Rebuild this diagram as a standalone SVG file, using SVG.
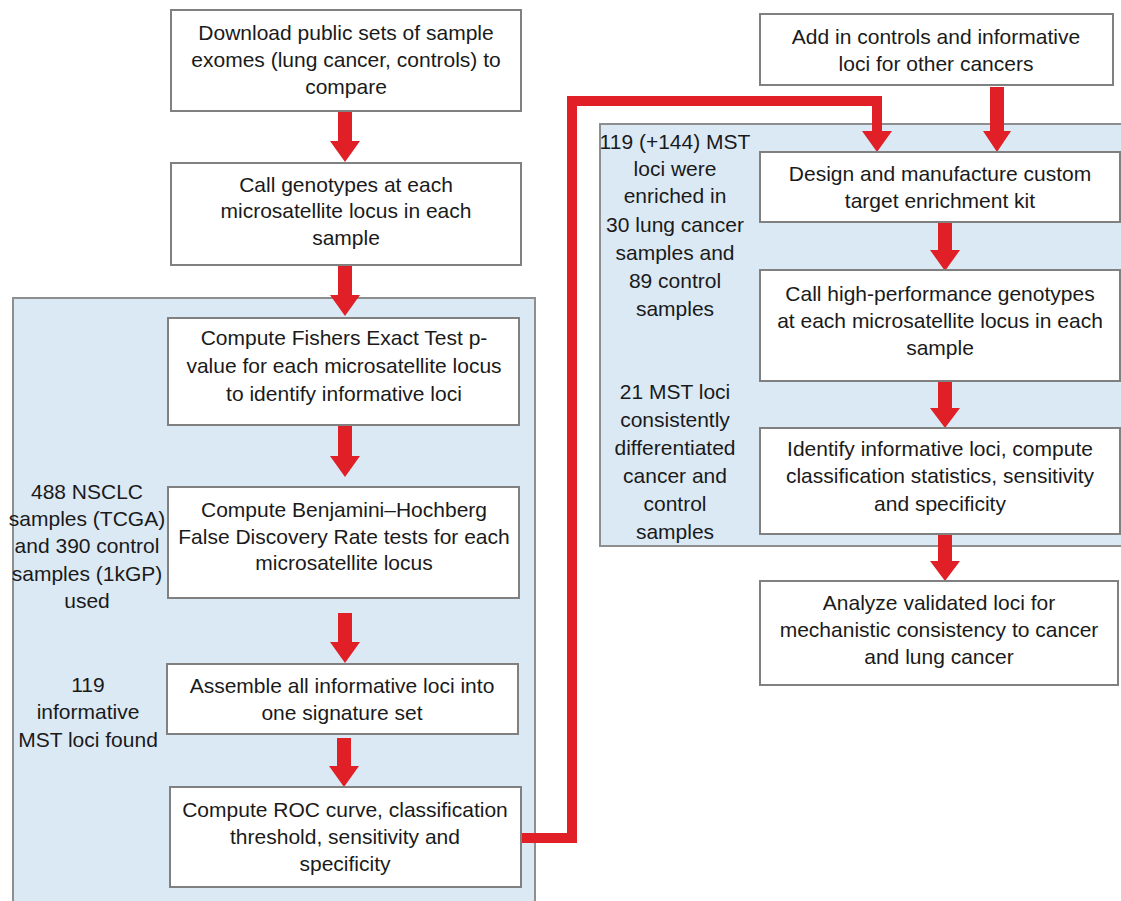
<svg xmlns="http://www.w3.org/2000/svg" width="1121" height="901" viewBox="0 0 1121 901">
<style>
.panel{fill:#dbe9f5;stroke:#8e8e8e;stroke-width:2}
.box{fill:#ffffff;stroke:#808080;stroke-width:2}
.t{font-family:"Liberation Sans",Arial,sans-serif;font-size:21px;fill:#1a1a1a;text-anchor:middle}
.arr{fill:#e01f26}
.line{fill:none;stroke:#e01f26;stroke-width:10;stroke-linejoin:miter}
</style>
<rect width="1121" height="901" fill="#ffffff"/>
<g id="panel-left"><rect class="panel" x="13" y="298" width="522" height="610"/></g>
<g id="panel-right"><rect class="panel" x="600" y="124" width="530" height="422"/></g>

<g id="connectors">
<polygon class="arr" points="338,112 352,112 352,141 360,141 345,162 330,141 338,141"/>
<polygon class="arr" points="338,266 352,266 352,295 360,295 345,316 330,295 338,295"/>
<polygon class="arr" points="338,426 352,426 352,456 360,456 345,477 330,456 338,456"/>
<polygon class="arr" points="338,613 352,613 352,642 360,642 345,663 330,642 338,642"/>
<polygon class="arr" points="337,738 351,738 351,766 359,766 344,787 329,766 337,766"/>
<polyline class="line" points="521,838 572,838 572,101 877,101 877,133"/>
<polygon class="arr" points="862,131 892,131 877,152"/>
<polygon class="arr" points="990,87 1004,87 1004,131 1011,131 997,152 983,131 990,131"/>
<polygon class="arr" points="938,222 952,222 952,250 960,250 945,271 930,250 938,250"/>
<polygon class="arr" points="938,381 952,381 952,408 960,408 945,428 930,408 938,408"/>
<polygon class="arr" points="938,534 952,534 952,561 960,561 945,581 930,561 938,561"/>
</g>

<g id="n1"><rect class="box" x="171" y="10" width="350" height="101"/>
<text class="t" x="346" y="40">Download public sets of sample</text>
<text class="t" x="346" y="67">exomes (lung cancer, controls) to</text>
<text class="t" x="346" y="94">compare</text></g>

<g id="n2"><rect class="box" x="171" y="163" width="350" height="102"/>
<text class="t" x="346" y="192">Call genotypes at each</text>
<text class="t" x="346" y="218">microsatellite locus in each</text>
<text class="t" x="346" y="245">sample</text></g>

<g id="n3"><rect class="box" x="168" y="318" width="351" height="107"/>
<text class="t" x="344" y="345">Compute Fishers Exact Test p-</text>
<text class="t" x="344" y="373">value for each microsatellite locus</text>
<text class="t" x="344" y="401">to identify informative loci</text></g>

<g id="n4"><rect class="box" x="168" y="487" width="351" height="111"/>
<text class="t" x="344" y="517">Compute Benjamini–Hochberg</text>
<text class="t" x="344" y="544">False Discovery Rate tests for each</text>
<text class="t" x="344" y="570">microsatellite locus</text></g>

<g id="n5"><rect class="box" x="167" y="664" width="351" height="70"/>
<text class="t" x="342" y="693">Assemble all informative loci into</text>
<text class="t" x="342" y="720">one signature set</text></g>

<g id="n6"><rect class="box" x="170" y="787" width="351" height="100"/>
<text class="t" x="345" y="817">Compute ROC curve, classification</text>
<text class="t" x="345" y="844">threshold, sensitivity and</text>
<text class="t" x="345" y="871">specificity</text></g>

<g id="label-left1">
<text class="t" x="87" y="499">488 NSCLC</text>
<text class="t" x="87" y="526">samples (TCGA)</text>
<text class="t" x="87" y="553">and 390 control</text>
<text class="t" x="87" y="581">samples (1kGP)</text>
<text class="t" x="87" y="608">used</text></g>

<g id="label-left2">
<text class="t" x="88" y="692">119</text>
<text class="t" x="88" y="719">informative</text>
<text class="t" x="88" y="747">MST loci found</text></g>

<g id="n7"><rect class="box" x="760" y="14" width="353" height="71"/>
<text class="t" x="936" y="44">Add in controls and informative</text>
<text class="t" x="936" y="71">loci for other cancers</text></g>

<g id="n8"><rect class="box" x="760" y="152" width="360" height="70"/>
<text class="t" x="940" y="181">Design and manufacture custom</text>
<text class="t" x="940" y="208">target enrichment kit</text></g>

<g id="n9"><rect class="box" x="760" y="270" width="360" height="111"/>
<text class="t" x="940" y="301">Call high-performance genotypes</text>
<text class="t" x="940" y="328">at each microsatellite locus in each</text>
<text class="t" x="940" y="355">sample</text></g>

<g id="n10"><rect class="box" x="760" y="428" width="360" height="106"/>
<text class="t" x="940" y="456">Identify informative loci, compute</text>
<text class="t" x="940" y="483">classification statistics, sensitivity</text>
<text class="t" x="940" y="511">and specificity</text></g>

<g id="n11"><rect class="box" x="760" y="581" width="358" height="104"/>
<text class="t" x="939" y="610">Analyze validated loci for</text>
<text class="t" x="939" y="637">mechanistic consistency to cancer</text>
<text class="t" x="939" y="664">and lung cancer</text></g>

<g id="label-right1">
<text class="t" x="675" y="149">119 (+144) MST</text>
<text class="t" x="675" y="176">loci were</text>
<text class="t" x="675" y="203">enriched in</text>
<text class="t" x="675" y="232">30 lung cancer</text>
<text class="t" x="675" y="260">samples and</text>
<text class="t" x="675" y="288">89 control</text>
<text class="t" x="675" y="316">samples</text></g>

<g id="label-right2">
<text class="t" x="675" y="399">21 MST loci</text>
<text class="t" x="675" y="427">consistently</text>
<text class="t" x="675" y="455">differentiated</text>
<text class="t" x="675" y="483">cancer and</text>
<text class="t" x="675" y="511">control</text>
<text class="t" x="675" y="539">samples</text></g>
</svg>
